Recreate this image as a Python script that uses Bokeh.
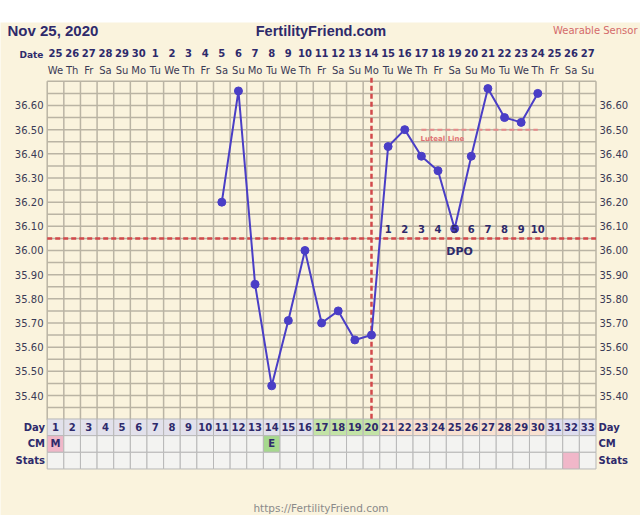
from bokeh.plotting import figure
from bokeh.models import Range1d, Label
from bokeh.core.properties import value
from bokeh.embed import file_html
from bokeh.resources import INLINE

# ---------------- data ----------------
chart_date = "Nov 25, 2020"
site_name = "FertilityFriend.com"
sensor_note = "Wearable Sensor"
footer_url = "https://FertilityFriend.com"

cycle_days = list(range(1, 34))
dates = ["25", "26", "27", "28", "29", "30"] + [str(i) for i in range(1, 28)]
weekdays = (["We", "Th", "Fr", "Sa", "Su", "Mo", "Tu"] * 5)[:33]

temp_days = list(range(11, 31))
temps = [36.20, 36.66, 35.86, 35.44, 35.71, 36.00, 35.70, 35.75, 35.63, 35.65,
         36.43, 36.50, 36.39, 36.33, 36.09, 36.39, 36.67, 36.55, 36.53, 36.65]

temp_ticks = [36.60, 36.50, 36.40, 36.30, 36.20, 36.10, 36.00,
              35.90, 35.80, 35.70, 35.60, 35.50, 35.40]
temp_min, temp_max = 35.30, 36.70

coverline = 36.05
ovulation_day = 20
luteal_level = 36.50
luteal_days = [23, 30]
dpo_days = list(range(21, 31))
dpo_labels = [str(i) for i in range(1, 11)]

phases = ["pre"] * 16 + ["fertile"] * 4 + ["luteal"] * 10 + ["future"] * 3
cm_days = [1, 14]
cm_codes = ["M", "E"]
stats_days = [32]

# ---------------- styles ----------------
CREAM = "#FAF3DD"
NAVY = "#2E2A6B"
LABEL = "#3A3A55"
GRID = "#BAB4A4"
PURPLE = "#4A3EC6"
RED = "#D2494B"
PINK_TXT = "#D46A6A"
CELL = "#F3F3F1"
CELL_LINE = "#B8B8B8"
phase_colors = {"pre": "#E2E1EB", "fertile": "#C3E3A6", "luteal": "#F8E1D1", "future": "#DEDDEE"}
cm_colors = {"M": "#F0B7C8", "E": "#A6D88E"}
STATS_MARK = "#F1B7C9"

FONT = value("DejaVu Sans")
FONT_NAME = "DejaVu Sans"
HFONT_NAME = "Liberation Sans"

# layout of the frame (page px -> data)
CW = 16.63      # column width px
X0 = 46.7       # left grid edge (page px)
PX_PER_T = 241.7
T_TOP_PX = 80.8
RH = 16.67
ROW0_PX = 426.8
FRAME_TOP, FRAME_BOT, FRAME_L, FRAME_R = 22, 515, 0, 640

def dx(px):
    return 0.5 + (px - X0) / CW

def ty(px):
    return temp_max - (px - T_TOP_PX) / PX_PER_T

def ry(px):
    return (px - ROW0_PX) / RH

p = figure(width=640, height=515, output_backend="svg", toolbar_location=None,
           x_range=Range1d(dx(FRAME_L), dx(FRAME_R)),
           y_range=Range1d(ty(FRAME_BOT), ty(FRAME_TOP)),
           x_axis_location=None, y_axis_location=None,
           min_border_top=22, min_border_left=0, min_border_right=0, min_border_bottom=0,
           background_fill_color=CREAM, border_fill_color="white",
           outline_line_color=None)
p.grid.visible = False
p.extra_y_ranges = {"rows": Range1d(start=ry(FRAME_BOT), end=ry(FRAME_TOP))}

# ---------------- grid ----------------
n_levels = int(round((temp_max - temp_min) / 0.05)) + 1
levels = [temp_min + 0.05 * i for i in range(n_levels)]
bounds = [d - 0.5 for d in cycle_days] + [cycle_days[-1] + 0.5]
p.segment(x0=bounds[0], x1=bounds[-1], y0=levels, y1=levels, line_color=GRID, line_width=1.5)
p.segment(x0=bounds, x1=bounds, y0=temp_min, y1=temp_max, line_color=GRID, line_width=1.5)

# ---------------- table rows ----------------
day_fill = [phase_colors[ph] for ph in phases]
p.rect(x=cycle_days, y=0, width=1, height=1, fill_color=day_fill, line_color=CELL_LINE,
       line_width=1, y_range_name="rows")
cm_fill = [cm_colors[cm_codes[cm_days.index(d)]] if d in cm_days else CELL for d in cycle_days]
p.rect(x=cycle_days, y=1, width=1, height=1, fill_color=cm_fill, line_color=CELL_LINE,
       line_width=1, y_range_name="rows")
st_fill = [STATS_MARK if d in stats_days else CELL for d in cycle_days]
p.rect(x=cycle_days, y=2, width=1, height=1, fill_color=st_fill, line_color=CELL_LINE,
       line_width=1, y_range_name="rows")

p.text(x=cycle_days, y=0, text=[str(d) for d in cycle_days], y_range_name="rows",
       text_font=FONT, text_font_style="bold", text_font_size="10px", text_color=NAVY,
       text_align="center", text_baseline="middle")
p.text(x=cm_days, y=1, text=cm_codes, y_range_name="rows",
       text_font=FONT, text_font_style="bold", text_font_size="10px", text_color=NAVY,
       text_align="center", text_baseline="middle")

row_names = ["Day", "CM", "Stats"]
rows_idx = [0, 1, 2]
p.text(x=dx(44.5), y=rows_idx, text=row_names, y_range_name="rows",
       text_font=FONT, text_font_style="bold", text_font_size="10px", text_color=NAVY,
       text_align="right", text_baseline="middle")
p.text(x=dx(598), y=rows_idx, text=row_names, y_range_name="rows",
       text_font=FONT, text_font_style="bold", text_font_size="10px", text_color=NAVY,
       text_align="left", text_baseline="middle")

# ---------------- header ----------------
p.text(x=cycle_days, y=ry(52), text=dates, y_range_name="rows",
       text_font=FONT, text_font_style="bold", text_font_size="10px", text_color=NAVY,
       text_align="center", text_baseline="middle")
p.text(x=cycle_days, y=ry(69.5), text=weekdays, y_range_name="rows",
       text_font=FONT, text_font_size="10px", text_color=LABEL,
       text_align="center", text_baseline="middle")
p.text(x=dx(31), y=ry(54.5), text=["Date"], y_range_name="rows",
       text_font=FONT, text_font_style="bold", text_font_size="9px", text_color=NAVY,
       text_align="center", text_baseline="middle")

p.add_layout(Label(x=dx(7), y=ry(30), y_range_name="rows", text=chart_date,
                   text_font=HFONT_NAME, text_font_style="bold", text_font_size="15px",
                   text_color=NAVY, text_align="left", text_baseline="middle"))
p.add_layout(Label(x=dx(320.5), y=ry(30), y_range_name="rows", text=site_name,
                   text_font=HFONT_NAME, text_font_style="bold", text_font_size="14.5px",
                   text_color=NAVY, text_align="center", text_baseline="middle"))
p.add_layout(Label(x=dx(637), y=ry(29.5), y_range_name="rows", text=sensor_note,
                   text_font=FONT_NAME, text_font_size="10px",
                   text_color=PINK_TXT, text_align="right", text_baseline="middle"))
p.add_layout(Label(x=dx(320.5), y=ry(507), y_range_name="rows", text=footer_url,
                   text_font=FONT_NAME, text_font_size="10.5px",
                   text_color="#8A8A8A", text_align="center", text_baseline="middle"))

# ---------------- temperature labels ----------------
tick_txt = ["%.2f" % t for t in temp_ticks]
p.text(x=dx(43), y=temp_ticks, text=tick_txt, text_font=FONT, text_font_size="10px",
       text_color=LABEL, text_align="right", text_baseline="middle")
p.text(x=dx(599), y=temp_ticks, text=tick_txt, text_font=FONT, text_font_size="10px",
       text_color=LABEL, text_align="left", text_baseline="middle")

# ---------------- reference lines ----------------
p.segment(x0=bounds[0], x1=bounds[-1], y0=coverline, y1=coverline,
          line_color=RED, line_width=2.5, line_dash="5 3")
p.segment(x0=ovulation_day, x1=ovulation_day, y0=temp_max + 0.015, y1=temp_min,
          line_color=RED, line_width=2.5, line_dash="5 3")
p.segment(x0=luteal_days[0], x1=luteal_days[1], y0=luteal_level, y1=luteal_level,
          line_color="#E58A8A", line_width=2, line_dash="5 3")
p.text(x=luteal_days[0] - 0.05, y=luteal_level - 0.04, text=["Luteal Line"],
       text_font=FONT, text_font_style="bold", text_font_size="7px", text_color="#E07272",
       text_align="left", text_baseline="middle")

# ---------------- temperature series ----------------
p.line(temp_days, temps, line_color=PURPLE, line_width=2)
p.scatter(temp_days, temps, size=8, fill_color=PURPLE, line_color=PURPLE)

# ---------------- DPO ----------------
p.text(x=dpo_days, y=coverline + 0.04, text=dpo_labels, text_font=FONT,
       text_font_style="bold", text_font_size="10px", text_color=NAVY,
       text_align="center", text_baseline="middle")
p.text(x=ovulation_day + 5.3, y=coverline - 0.055, text=["DPO"], text_font=FONT,
       text_font_style="bold", text_font_size="11px", text_color=NAVY,
       text_align="center", text_baseline="middle")

open("out.html", "w").write(file_html(p, INLINE))
